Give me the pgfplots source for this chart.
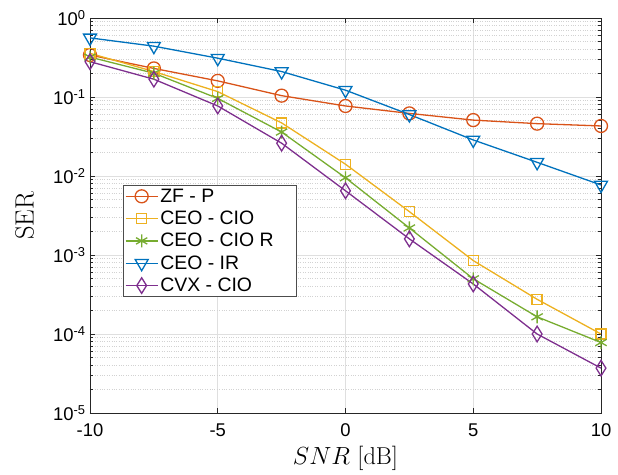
\documentclass[border=0pt]{standalone}
\usepackage{fontspec}
\setsansfont{Liberation Sans}
\usepackage{pgfplots}
\pgfplotsset{compat=1.18}
\definecolor{mBlue}{rgb}{0,0.447,0.741}
\definecolor{mOrange}{rgb}{0.85,0.325,0.098}
\definecolor{mYellow}{rgb}{0.929,0.694,0.125}
\definecolor{mPurple}{rgb}{0.494,0.184,0.556}
\definecolor{mGreen}{rgb}{0.466,0.674,0.188}
\begin{document}
\begin{tikzpicture}
\begin{axis}[
  scale only axis, width=511bp, height=395bp,
  ymode=log, xmin=-10, xmax=10, ymin=1e-5, ymax=1,
  xtick={-10,-5,0,5,10}, xticklabels={-10,-5,0,5,10},
  ytick={1e-5,1e-4,1e-3,1e-2,1e-1,1},
  yticklabels={10\textsuperscript{-5},10\textsuperscript{-4},10\textsuperscript{-3},10\textsuperscript{-2},10\textsuperscript{-1},10\textsuperscript{0}},
  tick label style={font=\fontsize{18.5}{18.5}\selectfont\sffamily},
  xticklabel style={yshift=-7bp},
  yticklabel style={xshift=-1bp},
  tick align=inside, major tick length=5bp, minor tick length=3bp,
  xmajorgrids, ymajorgrids, yminorgrids,
  major grid style={gray!25, line width=0.6bp},
  minor grid style={gray!35, dotted, line width=0.6bp},
  axis line style={line width=0.7bp, black!85},
  every tick/.style={black!85, line width=0.6bp},
  xlabel={$SNR$ [dB]}, ylabel={SER},
  xlabel style={font=\fontsize{24.5}{24.5}\selectfont, yshift=-3bp},
  ylabel style={font=\fontsize{26.5}{26.5}\selectfont, yshift=12bp},
  legend style={at={(0.065,0.577)}, anchor=north west, font=\fontsize{19.5}{19.5}\selectfont\sffamily,
    draw=black!70, line width=0.6bp, inner sep=1.5bp, row sep=3.3bp, cells={anchor=west}},
  legend image code/.code={\draw[mark repeat=2,mark phase=2] plot coordinates {(0bp,0bp) (16bp,0bp) (32bp,0bp)};},
  every axis plot/.append style={line width=1.3bp},
]
\addplot[mOrange, mark=o, mark size=6.5bp] coordinates {
(-10,0.34) (-7.5,0.23) (-5,0.16) (-2.5,0.104) (0,0.077) (2.5,0.062) (5,0.051) (7.5,0.046) (10,0.043)};
\addlegendentry{ZF - P}
\addplot[mYellow, mark=square, mark size=5bp] coordinates {
(-10,0.357) (-7.5,0.21) (-5,0.117) (-2.5,0.047) (0,0.0141) (2.5,0.00354) (5,0.00085) (7.5,0.000275) (10,0.0001)};
\addlegendentry{CEO - CIO}
\addplot[mGreen, mark=asterisk, mark size=6.5bp] coordinates {
(-10,0.32) (-7.5,0.20) (-5,0.096) (-2.5,0.036) (0,0.0095) (2.5,0.0022) (5,0.0005) (7.5,0.000165) (10,0.000078)};
\addlegendentry{CEO - CIO R\rule{19bp}{0pt}}
\addplot[mBlue, mark=triangle, mark size=7.5bp, mark options={rotate=180}] coordinates {
(-10,0.56) (-7.5,0.44) (-5,0.31) (-2.5,0.21) (0,0.122) (2.5,0.06) (5,0.0286) (7.5,0.0149) (10,0.0077)};
\addlegendentry{CEO - IR}
\addplot[mPurple, mark=diamond, mark size=6.5bp, mark options={yscale=1.2}] coordinates {
(-10,0.28) (-7.5,0.168) (-5,0.077) (-2.5,0.026) (0,0.0065) (2.5,0.0016) (5,0.00043) (7.5,0.0001) (10,0.000037)};
\addlegendentry{CVX - CIO}
\end{axis}
\path ([shift={(-90bp,-59bp)}]current axis.south west) rectangle ([shift={(17bp,18bp)}]current axis.north east);
\end{tikzpicture}
\end{document}
